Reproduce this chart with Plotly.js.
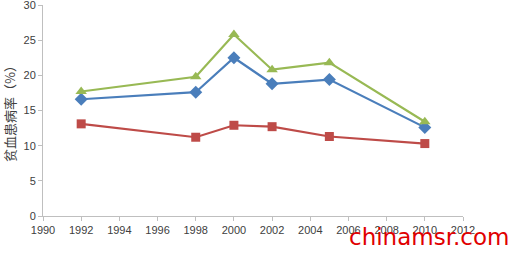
<!DOCTYPE html>
<html><head><meta charset="utf-8">
<script src="https://cdn.plot.ly/plotly-3.0.1.min.js"></script>
<style>html,body{margin:0;padding:0;background:#fff}#c{width:517px;height:253px}</style>
</head><body><div id="c"></div>
<script>
const years = [1992, 1998, 2000, 2002, 2005, 2010];
const seriesBlue = [16.6, 17.6, 22.5, 18.8, 19.4, 12.6];
const seriesRed = [13.1, 11.2, 12.9, 12.7, 11.3, 10.3];
const seriesGreen = [17.7, 19.8, 25.8, 20.8, 21.8, 13.4];
const yTitle = '贫血患病率（%）';
const watermark = 'chinamsr.com';

const mk = (y, color, symbol, size) => ({
  x: years, y: y, type: 'scatter', mode: 'lines+markers',
  line: {color: color, width: 2.2},
  marker: {color: color, symbol: symbol, size: size},
  showlegend: false, cliponaxis: false
});
const data = [
  mk(seriesBlue, '#4a7ebb', 'diamond', 10),
  mk(seriesRed, '#be4b48', 'square', 9),
  mk(seriesGreen, '#98b954', 'triangle-up', 10)
];
const axisFont = {family: 'Liberation Sans, Arial, sans-serif', size: 11, color: '#404040'};
const layout = {
  width: 517, height: 253,
  margin: {l: 43, r: 54, t: 5, b: 37},
  paper_bgcolor: '#fff', plot_bgcolor: '#fff',
  xaxis: {range: [1990, 2012], tickvals: [1990,1992,1994,1996,1998,2000,2002,2004,2006,2008,2010,2012],
    showgrid: false, zeroline: false,
    showline: true, linecolor: '#bfbfbf', linewidth: 1, ticks: 'outside', ticklen: 4,
    tickcolor: '#bfbfbf', tickfont: axisFont},
  yaxis: {range: [0, 30], tickvals: [0,5,10,15,20,25,30], showgrid: false, zeroline: false,
    showline: true, linecolor: '#bfbfbf', linewidth: 1, ticks: 'outside', ticklen: 4,
    tickcolor: '#bfbfbf', tickfont: axisFont, ticklabeloverflow: 'allow',
    title: {text: yTitle, font: {family: 'Noto Sans CJK SC', size: 13, color: '#404040'}, standoff: 4}},
  annotations: [{text: watermark, xref: 'paper', yref: 'paper', x: 1.115, y: -0.1,
    xanchor: 'right', yanchor: 'middle', showarrow: false,
    font: {family: 'DejaVu Sans, sans-serif', size: 23, color: '#e00000'}}]
};
Plotly.newPlot('c', data, layout, {displayModeBar: false, staticPlot: true});
</script></body></html>
